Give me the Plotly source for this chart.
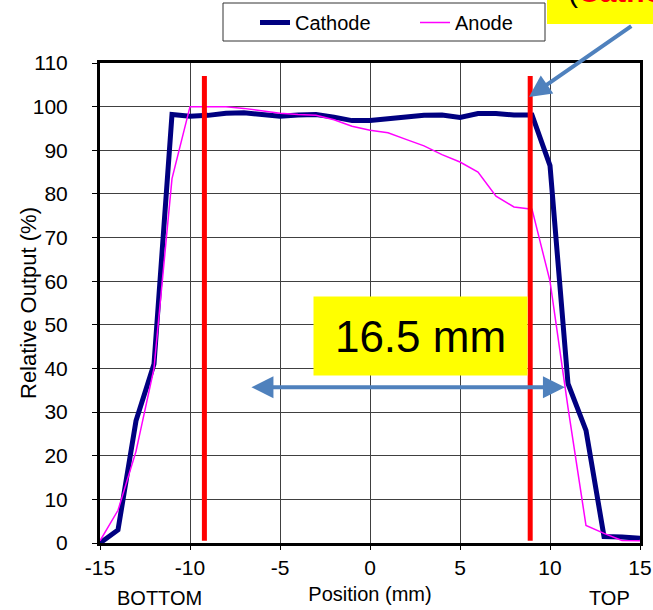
import plotly.graph_objects as go

# ---- data ----
positions = list(range(-15, 16))
cathode = [0, 3, 28, 41, 98.2, 97.8, 98, 98.5, 98.6, 98.2, 97.8, 98.1, 98.2, 97.6, 96.8,
           96.8, 97.2, 97.5, 98, 98.1, 97.5, 98.4, 98.4, 98.1, 98.1, 86.5, 36.5, 25.8, 1.5, 1.4, 1.1]
anode = [0.5, 7.5, 21, 40, 83.5, 100, 100, 100, 99.6, 99, 98.5, 98.2, 98, 97, 95.5,
         94.6, 94, 92.5, 91, 89, 87.3, 85, 79.5, 77, 76.5, 60, 31, 4, 2.2, 0.6, 0.5]
x_ticks = [-15, -10, -5, 0, 5, 10, 15]
y_ticks = list(range(0, 111, 10))
edge_marks = [-9.2, 8.9]          # red vertical markers (mm)
edge_mark_span = [0.5, 107]       # vertical extent of markers (%)
width_label = "16.5 mm"
width_arrow = [-6.67, 10.83]      # double arrow ends (mm)
width_arrow_y = 35.7

FONT = "Liberation Sans, Arial, sans-serif"


def px_x(p):  # pixel column -> paper x
    return (p - 100) / 540


def px_y(p):  # pixel row -> paper y
    return (543 - p) / 480


fig = go.Figure()
fig.add_trace(go.Scatter(x=positions, y=cathode, mode="lines", name="Cathode",
                         line=dict(color="#000080", width=5)))
fig.add_trace(go.Scatter(x=positions, y=anode, mode="lines", name="Anode",
                         line=dict(color="#FF00FF", width=1.5)))

for xm in edge_marks:
    fig.add_shape(type="line", xref="x", yref="y", x0=xm, x1=xm,
                  y0=edge_mark_span[0], y1=edge_mark_span[1],
                  line=dict(color="#FF0000", width=5), layer="above")

# double arrow
fig.add_annotation(x=width_arrow[1], y=width_arrow_y, ax=width_arrow[0], ay=width_arrow_y,
                   xref="x", yref="y", axref="x", ayref="y", text="",
                   showarrow=True, arrowside="end+start", arrowhead=2, arrowsize=1.1,
                   arrowwidth=4, arrowcolor="#4F81BD", standoff=0, startstandoff=0)
# label box
fig.add_annotation(x=2.81, y=47.4, xref="x", yref="y", text=width_label, showarrow=False,
                   bgcolor="#FFFF00", width=213, height=78, borderpad=0,
                   font=dict(family=FONT, size=44, color="black"))

# top-right callout
fig.add_shape(type="rect", xref="paper", yref="paper", x0=px_x(547), x1=1.06,
              y0=px_y(24), y1=1.16,
              fillcolor="#FFFF00", line=dict(width=0), layer="above")
fig.add_annotation(xref="paper", yref="paper", x=px_x(566), y=px_y(10),
                   xanchor="left", yanchor="bottom", showarrow=False,
                   text="<span style='color:black'>(</span><b>Cathode)</b>",
                   font=dict(family=FONT, size=30, color="#FF0000"))
fig.add_annotation(x=8.83, y=102.2, ax=14.6, ay=118.7, xref="x", yref="y", axref="x", ayref="y",
                   text="", showarrow=True, arrowhead=2, arrowsize=1.1, arrowwidth=4,
                   arrowcolor="#4F81BD", standoff=0)

# legend frame
fig.add_shape(type="rect", xref="paper", yref="paper", x0=px_x(223), x1=px_x(545),
              y0=px_y(41), y1=px_y(3), fillcolor="white",
              line=dict(color="#333333", width=1), layer="below")

# bottom side labels
fig.add_annotation(x=-11.67, y=px_y(598), xref="x", yref="paper", yanchor="middle",
                   text="BOTTOM", showarrow=False, font=dict(family=FONT, size=20, color="black"))
fig.add_annotation(x=13.28, y=px_y(598), xref="x", yref="paper", yanchor="middle",
                   text="TOP", showarrow=False, font=dict(family=FONT, size=20, color="black"))
# y-axis title
fig.add_annotation(x=px_x(28), y=0.5, xref="paper", yref="paper", xanchor="center",
                   yanchor="middle", textangle=-90, text="Relative Output (%)", showarrow=False,
                   font=dict(family=FONT, size=22, color="black"))

fig.update_layout(
    width=653, height=610,
    margin=dict(l=100, r=13, t=63, b=67, autoexpand=False),
    paper_bgcolor="white", plot_bgcolor="white",
    font=dict(family=FONT, size=20, color="black"),
    showlegend=True,
    legend=dict(orientation="h", x=px_x(255), xanchor="left", y=px_y(3), yanchor="top",
                borderwidth=0, bgcolor="rgba(0,0,0,0)",
                entrywidth=115, entrywidthmode="pixels",
                font=dict(family=FONT, size=20, color="black")),
    xaxis=dict(range=[-15, 15], tickvals=x_ticks, ticktext=[str(v) for v in x_ticks],
               showgrid=True, gridcolor="#404040", gridwidth=1, automargin=False,
               showline=True, linecolor="black", linewidth=3, mirror=True,
               ticks="outside", ticklen=4, tickcolor="black", ticklabelstandoff=0,
               zeroline=False, tickfont=dict(family=FONT, size=21),
               title=dict(text="Position (mm)", standoff=9, font=dict(family=FONT, size=20))),
    yaxis=dict(range=[0, 110], tickvals=y_ticks, automargin=False,
               showgrid=True, gridcolor="#404040", gridwidth=1,
               showline=True, linecolor="black", linewidth=3, mirror=True,
               ticks="outside", ticklen=5, tickcolor="black", ticklabelstandoff=20,
               zeroline=False, tickfont=dict(family=FONT, size=21)),
)

fig.write_html("out.html")
